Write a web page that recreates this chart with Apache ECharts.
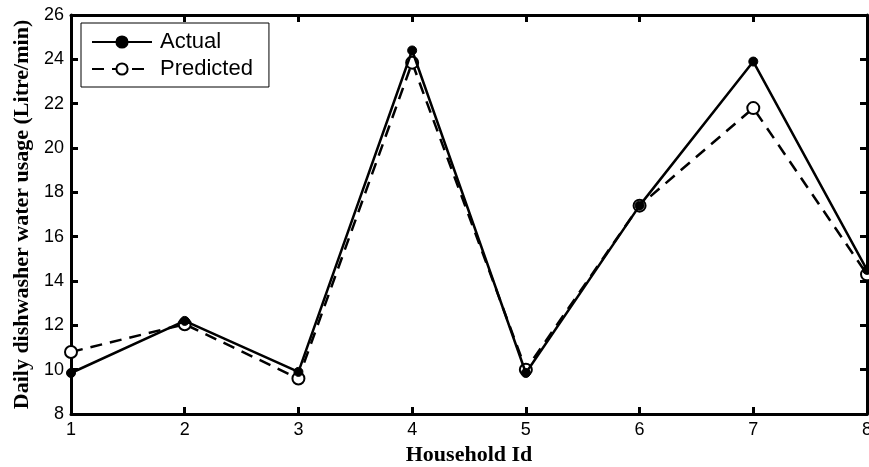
<!DOCTYPE html>
<html>
<head>
<meta charset="utf-8">
<script src="https://cdn.jsdelivr.net/npm/echarts@6/dist/echarts.min.js"></script>
<style>
  html, body { margin: 0; padding: 0; background: #fff; }
  #chart { width: 869px; height: 467px; }
</style>
</head>
<body>
<div id="chart"></div>
<script>
// household ids and daily water usage values
const households = [1, 2, 3, 4, 5, 6, 7, 8]
const actual = [9.85, 12.2, 9.9, 24.4, 9.85, 17.4, 23.9, 14.5]
const predicted = [10.8, 12.05, 9.6, 23.85, 10.0, 17.4, 21.8, 14.3]
const yTicks = [8, 10, 12, 14, 16, 18, 20, 22, 24, 26]

const chart = echarts.init(document.getElementById('chart'))

const tickFont = { fontFamily: 'Liberation Sans, Arial', fontSize: 18, color: '#000' }
const titleFont = { fontFamily: 'Liberation Serif, Times New Roman', fontSize: 22, fontWeight: 'bold', color: '#000' }

function pairs(ys) {
  return households.map((x, i) => [x, ys[i]])
}

// shared look of the four frame axes
const frameLine = { lineStyle: { color: '#000', width: 3 } }
const frameTick = { inside: true, length: 7, lineStyle: { color: '#000', width: 3 } }

const option = {
  backgroundColor: '#fff',
  animation: false,
  grid: { left: 71, right: 2, top: 15, bottom: 53, outerBoundsMode: 'none' },
  legend: {
    left: 81,
    top: 23,
    orient: 'vertical',
    backgroundColor: '#fff',
    borderColor: '#000',
    borderWidth: 1,
    borderRadius: 0,
    padding: [8, 16, 7, 10],
    itemGap: 5,
    itemWidth: 60,
    itemHeight: 14,
    textStyle: { fontFamily: 'Liberation Sans, Arial', fontSize: 22, color: '#000', padding: [0, 0, 0, 3] },
    data: ['Actual', 'Predicted']
  },
  xAxis: [
    {
      type: 'value',
      min: 1,
      max: 8,
      interval: 1,
      name: 'Household Id',
      nameLocation: 'middle',
      nameGap: 30,
      nameTextStyle: titleFont,
      axisLine: frameLine,
      axisTick: frameTick,
      axisLabel: Object.assign({ margin: 7 }, tickFont),
      splitLine: { show: false }
    },
    {
      type: 'value',
      position: 'top',
      min: 1,
      max: 8,
      interval: 1,
      axisLine: frameLine,
      axisTick: frameTick,
      axisLabel: { show: false },
      splitLine: { show: false }
    }
  ],
  yAxis: [
    {
      type: 'value',
      min: 8,
      max: 26,
      interval: 2,
      name: 'Daily dishwasher water usage (Litre/min)',
      nameLocation: 'middle',
      nameGap: 38,
      nameTextStyle: titleFont,
      axisLine: frameLine,
      axisTick: frameTick,
      axisLabel: Object.assign({ margin: 7, formatter: v => yTicks.includes(v) ? String(v) : '' }, tickFont),
      splitLine: { show: false }
    },
    {
      type: 'value',
      position: 'right',
      min: 8,
      max: 26,
      interval: 2,
      axisLine: frameLine,
      axisTick: frameTick,
      axisLabel: { show: false },
      splitLine: { show: false }
    }
  ],
  series: [
    {
      name: 'Predicted',
      type: 'line',
      data: pairs(predicted),
      symbol: 'circle',
      symbolSize: 12,
      lineStyle: { color: '#000', width: 2.5, type: [12, 8] },
      itemStyle: { color: '#fff', borderColor: '#000', borderWidth: 2 },
      z: 2
    },
    {
      name: 'Actual',
      type: 'line',
      data: pairs(actual),
      symbol: 'circle',
      symbolSize: 9,
      lineStyle: { color: '#000', width: 2.5 },
      itemStyle: { color: '#000', borderColor: '#000', borderWidth: 1 },
      z: 3
    }
  ]
}

chart.setOption(option)
</script>
</body>
</html>
